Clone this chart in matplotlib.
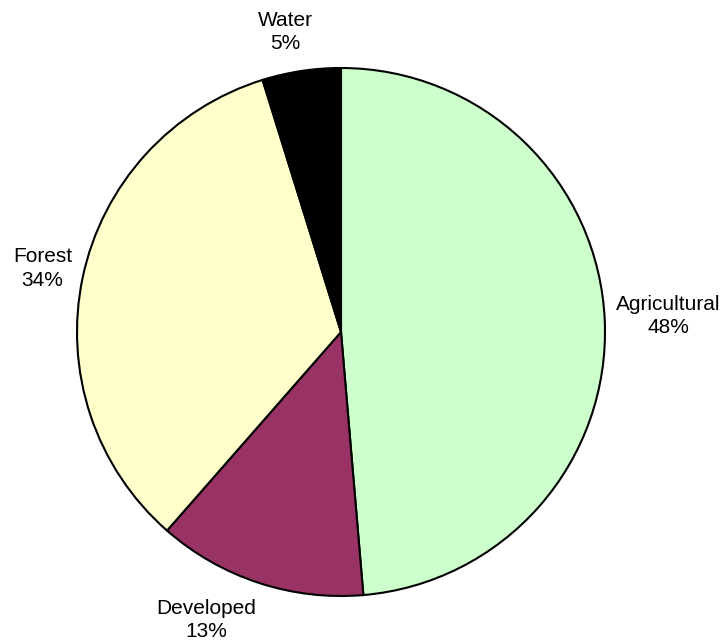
import matplotlib
matplotlib.use('Agg')
import numpy as np
import matplotlib.pyplot as plt

# land use shares (percent), clockwise from 12 o'clock
categories = ['Agricultural', 'Developed', 'Forest', 'Water']
shares = [48.65, 12.8, 33.75, 4.8]
pct_shown = [48, 13, 34, 5]
colors = ['#CCFFCC', '#993366', '#FFFFCC', '#000000']

plt.rcParams['font.family'] = ['Liberation Sans', 'DejaVu Sans']

fig = plt.figure(figsize=(7.22, 6.43), dpi=100)
W, H = 722, 643
cx, cy, r = 341, 332, 264
ax = fig.add_axes([(cx - r) / W, (H - cy - r) / H, 2 * r / W, 2 * r / H])

wedges, _ = ax.pie(shares, colors=colors, startangle=90, counterclock=False,
                   radius=1,
                   wedgeprops=dict(edgecolor='black', linewidth=1.5))

# label placement like the spreadsheet: (distance, angle shift, ha, va)
layout = [(1.044, 0.9, 'left', 'center'),
          (1.059, 0.6, 'right', 'top'),
          (1.047, -1.3, 'right', 'center'),
          (1.077, 2.6, 'center', 'bottom')]

for w, cat, p, (d, da, ha, va) in zip(wedges, categories, pct_shown, layout):
    ang = np.deg2rad((w.theta1 + w.theta2) / 2 + da)
    ax.text(d * np.cos(ang), d * np.sin(ang), f'{cat}\n{p}%',
            ha=ha, va=va, multialignment='center', fontsize=15,
            linespacing=1.3, clip_on=False)

ax.set_xlim(-1, 1)
ax.set_ylim(-1, 1)
ax.set_aspect('equal')
ax.axis('off')

fig.savefig('out.png', dpi=100)
